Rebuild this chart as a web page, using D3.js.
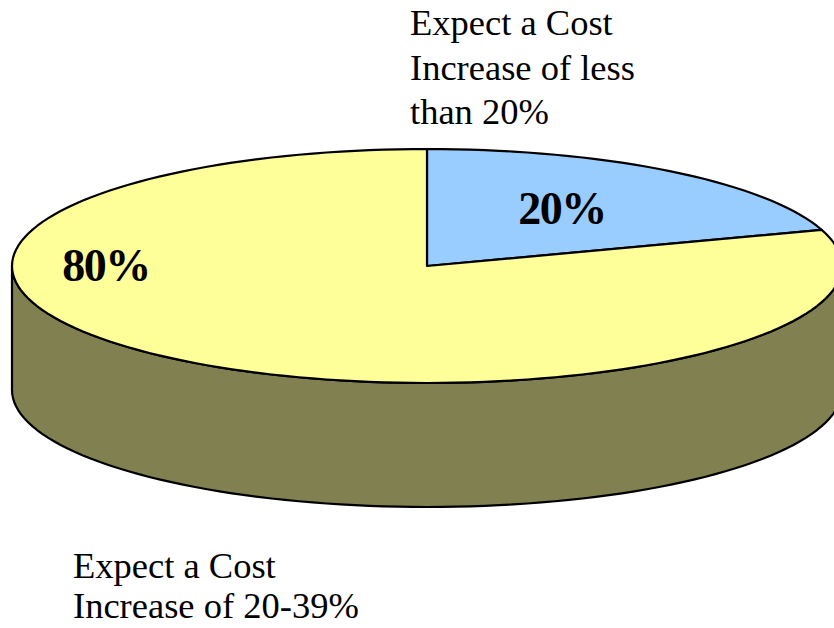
<!DOCTYPE html>
<html>
<head>
<meta charset="utf-8">
<script src="https://cdn.jsdelivr.net/npm/d3@7"></script>
<style>
  html, body { margin: 0; padding: 0; background: #fff; overflow: hidden; }
  svg { display: block; }
</style>
</head>
<body>
<svg id="chart" width="834" height="628"></svg>
<script>
// Survey answers: expected cost increase
const categories = ["Expect a Cost Increase of less than 20%", "Expect a Cost Increase of 20-39%"];
const values = [20, 80];
const valueLabels = ["20%", "80%"];
const colors = ["#99CCFF", "#FFFF99"];
const sideColor = "#808050";
const calloutLines = [
  ["Expect a Cost", "Increase of less", "than 20%"],
  ["Expect a Cost", "Increase of 20-39%"]
];

const svg = d3.select("#chart");
const W = 834, H = 628;

// Tilted pie geometry
const cx = 427, cy = 266, rx = 415, ry = 117, depth = 124;

const pie = d3.pie().sort(null).value(d => d);
const arcs = pie(values);

// angle measured clockwise from 12 o'clock, as d3.pie does
const px = (a) => cx + rx * Math.sin(a);
const py = (a, dz = 0) => cy - ry * Math.cos(a) + dz;

function arcPoints(a0, a1, dz = 0) {
  const n = Math.max(2, Math.ceil(Math.abs(a1 - a0) / (Math.PI / 90)));
  const pts = [];
  for (let i = 0; i <= n; i++) {
    const a = a0 + (a1 - a0) * i / n;
    pts.push([px(a), py(a, dz)]);
  }
  return pts;
}

const line = d3.line();
const g = svg.append("g");

// Side walls: only the front half (angles between 90° and 270°) can be seen
arcs.forEach((d, i) => {
  const s = Math.max(d.startAngle, Math.PI / 2);
  const e = Math.min(d.endAngle, 3 * Math.PI / 2);
  if (e <= s) return;
  const top = arcPoints(s, e, 0);
  const bottom = arcPoints(e, s, depth);
  g.append("path")
    .attr("d", line(top.concat(bottom)) + "Z")
    .attr("fill", sideColor)
    .attr("stroke", "#000")
    .attr("stroke-width", 2.2)
    .attr("stroke-linejoin", "round");
});

// Top faces
arcs.forEach((d, i) => {
  const pts = [[cx, cy]].concat(arcPoints(d.startAngle, d.endAngle, 0));
  g.append("path")
    .attr("d", line(pts) + "Z")
    .attr("fill", colors[i])
    .attr("stroke", "#000")
    .attr("stroke-width", 2.2)
    .attr("stroke-linejoin", "round");
});

// Percentage labels on the slices
const labelFont = "'Liberation Serif', 'Times New Roman', serif";
const valuePos = [[562, 224], [106, 281]];
arcs.forEach((d, i) => {
  g.append("text")
    .attr("x", valuePos[i][0])
    .attr("y", valuePos[i][1])
    .attr("text-anchor", "middle")
    .attr("font-family", labelFont)
    .attr("font-weight", "bold")
    .attr("font-size", 46)
    .attr("letter-spacing", -1.5)
    .attr("fill", "#000")
    .text(valueLabels[i]);
});

// Category callouts
const calloutPos = [[410, 35], [73, 578]];
const lineGap = [44.5, 40];
calloutLines.forEach((lines, i) => {
  const t = svg.append("text")
    .attr("font-family", labelFont)
    .attr("font-size", 36.5)
    .attr("fill", "#000");
  lines.forEach((s, j) => {
    t.append("tspan")
      .attr("x", calloutPos[i][0])
      .attr("y", calloutPos[i][1] + j * lineGap[i])
      .text(s);
  });
});
</script>
</body>
</html>
